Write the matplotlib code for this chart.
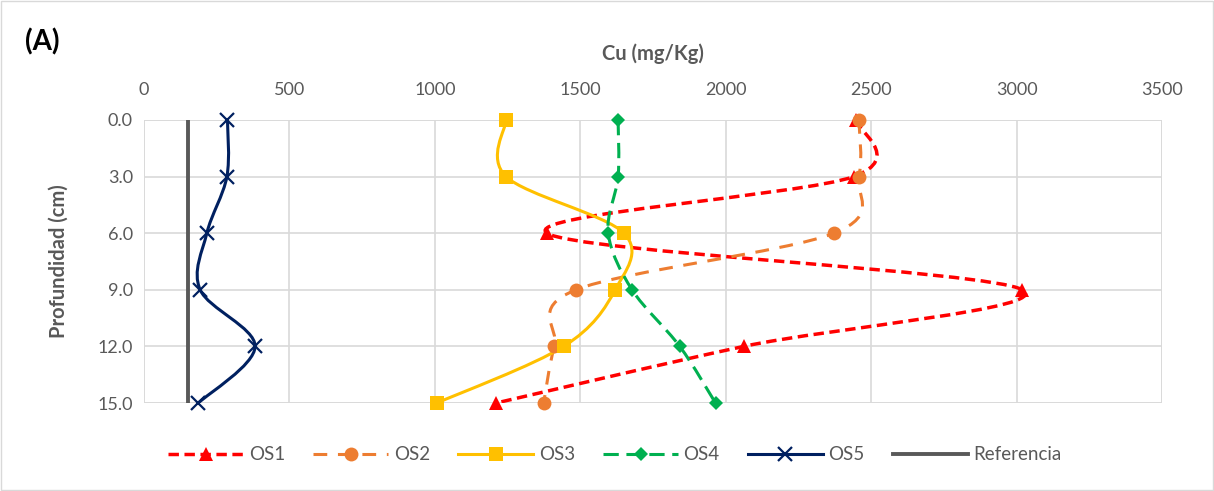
import numpy as np
import matplotlib.pyplot as plt
from matplotlib.path import Path
from matplotlib.patches import PathPatch, Rectangle
from matplotlib.lines import Line2D

plt.rcParams['font.family'] = ['Lato', 'DejaVu Sans']

# Profundidad (cm) y Cu (mg/Kg) por sitio
depth = [0, 3, 6, 9, 12, 15]
os1 = [2447, 2440, 1386, 3020, 2062, 1211]
os2 = [2458, 2458, 2372, 1485, 1411, 1374]
os3 = [1245, 1245, 1650, 1620, 1443, 1007]
os4 = [1630, 1630, 1596, 1678, 1842, 1965]
os5 = [287, 285, 216, 193, 382, 187]
referencia = [152, 152]
ref_depth = [0, 15]

GREY = '#595959'


def smooth_path(xs, ys):
    # curva suavizada tipo Excel (Bezier cubica, Catmull-Rom)
    p = np.column_stack([xs, ys]).astype(float)
    n = len(p)
    verts = [p[0]]
    codes = [Path.MOVETO]
    for i in range(n - 1):
        p0 = p[i - 1] if i > 0 else p[i]
        p3 = p[i + 2] if i + 2 < n else p[i + 1]
        c1 = p[i] + (p[i + 1] - p0) / 6
        c2 = p[i + 1] - (p3 - p[i]) / 6
        verts += [c1, c2, p[i + 1]]
        codes += [Path.CURVE4] * 3
    return Path(verts, codes)


fig = plt.figure(figsize=(12.14, 4.91), dpi=100)
ax = fig.add_axes([144 / 1214, 1 - 403 / 491, (1162 - 144) / 1214, (403 - 120) / 491])

series = [
    ('OS1', os1, '#FF0000', (0, (3.0, 1.6)), 2.5, '^', 10),
    ('OS2', os2, '#ED7D31', (0, (4.5, 3.5)), 2.2, 'o', 10),
    ('OS3', os3, '#FFC000', '-', 2.2, 's', 9.5),
    ('OS4', os4, '#00B050', (0, (5, 2.5)), 2.2, 'D', 7),
    ('OS5', os5, '#002060', '-', 2.2, 'x', 10),
]

handles = []
for name, vals, color, ls, lw, mk, ms in series:
    patch = PathPatch(smooth_path(vals, depth), facecolor='none', edgecolor=color,
                      linestyle=ls, linewidth=lw, capstyle='butt', zorder=3)
    ax.add_patch(patch)
    mew = 1.6 if mk == 'x' else 0
    ax.plot(vals, depth, linestyle='none', marker=mk, markersize=ms, color=color,
            markeredgewidth=mew, zorder=4, clip_on=False)
    handles.append(Line2D([], [], color=color, linestyle=ls, linewidth=lw, marker=mk,
                          markersize=ms, markeredgewidth=mew, label=name))

ax.plot(referencia, ref_depth, color=GREY, linewidth=2.8, zorder=3)
handles.append(Line2D([], [], color=GREY, linewidth=2.8, label='Referencia'))

ax.set_xlim(0, 3500)
ax.set_ylim(15, 0)
ax.set_xticks(np.arange(0, 3501, 500))
ax.set_yticks(depth)
ax.set_yticklabels([f'{d:.1f}' for d in depth])
ax.xaxis.tick_top()
ax.xaxis.set_label_position('top')
ax.tick_params(length=0, labelsize=13, labelcolor=GREY, pad=8)
ax.tick_params(axis='x', pad=16)
ax.grid(True, color='#D9D9D9', linewidth=1.2, zorder=0)
ax.set_axisbelow(True)
for s in ax.spines.values():
    s.set_visible(False)
ax.add_patch(Rectangle((0, 0), 1, 1, transform=ax.transAxes, fill=False,
                       edgecolor='#D9D9D9', linewidth=1.2, zorder=0))

ax.set_xlabel('Cu (mg/Kg)', fontsize=14.5, fontweight='bold', color=GREY)
ax.set_ylabel('Profundidad (cm)', fontsize=14.5, fontweight='bold', color=GREY)
ax.xaxis.set_label_coords(0.5, (403 - 60) / 283)
ax.yaxis.set_label_coords((69 - 144) / 1018, 0.5)

fig.text(25 / 1214, 1 - 42 / 491, '(A)', fontsize=20, fontweight='bold', va='center')

fig.legend(handles=handles, loc='center', bbox_to_anchor=(615 / 1214, 1 - 455 / 491),
           ncol=6, frameon=False, fontsize=13.5, labelcolor=GREY, handlelength=4.0,
           columnspacing=1.5, handletextpad=0.3)

fig.add_artist(Rectangle((1 / 1214, 1 / 491), 1 - 2 / 1214, 1 - 2 / 491,
                         transform=fig.transFigure, fill=False, edgecolor='#D9D9D9',
                         linewidth=1))

fig.savefig('out.png', dpi=100)
